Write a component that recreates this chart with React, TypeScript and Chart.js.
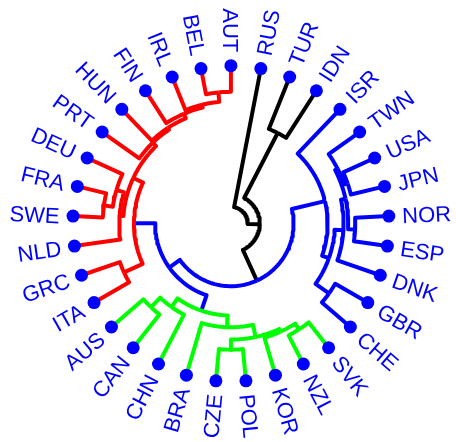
import { useEffect, useRef } from "react";
import { Chart, registerables } from "chart.js";

Chart.register(...registerables);

// Leaves in dendrogram order, clockwise from the top
const countries = [
  "RUS", "TUR", "IDN", "ISR", "TWN", "USA", "JPN", "NOR", "ESP", "DNK", "GBR",
  "CHE", "SVK", "NZL", "KOR", "POL", "CZE", "BRA", "CHN", "CAN", "AUS", "ITA",
  "GRC", "NLD", "SWE", "FRA", "DEU", "PRT", "HUN", "FIN", "IRL", "BEL", "AUT",
];

// Cluster of each leaf (index into clusterColours)
const leafCluster = [
  0, 0, 0, 1, 1, 1, 1, 1, 1, 1, 1, 1, 2, 2, 2, 2, 2, 2, 2, 2, 2, 3, 3, 3, 3, 3,
  3, 3, 3, 3, 3, 3, 3,
];
const clusterColours = ["#000000", "#0000FF", "#00FF00", "#FF0000"];

// hclust-style merge table: negative = leaf (1-based), positive = earlier merge row (1-based)
const mergeChildren: [number, number][] = [
  [-32, -33], [-25, -26], [-16, -17], [-13, -14], [-8, -9], [-6, -7], [-31, 1],
  [-11, -12], [-5, 6], [-30, 7], [2, -27], [4, -15], [-22, -23], [9, 5],
  [12, 3], [-20, -21], [-29, 10], [14, -10], [-28, 17], [-24, 11], [20, 19],
  [18, 8], [15, -18], [-19, 16], [-2, -3], [13, 21], [-4, 22], [23, 24],
  [28, 26], [27, 29], [25, 30], [-1, 31],
];
const mergeHeights = [
  1.82, 2.07, 2.22, 2.24, 2.35, 2.41, 2.48, 2.62, 2.65, 2.68, 2.7, 2.72, 2.82,
  2.84, 2.92, 2.95, 3.02, 3.16, 3.17, 3.23, 3.5, 3.77, 3.78, 3.87, 3.9, 4.25,
  4.27, 4.6, 5.73, 6.64, 8.99, 9.83,
];
// Colour of the branch leading into each merge
const mergeColours = [
  "#FF0000", "#FF0000", "#00FF00", "#00FF00", "#0000FF", "#0000FF", "#FF0000",
  "#0000FF", "#0000FF", "#FF0000", "#FF0000", "#00FF00", "#FF0000", "#0000FF",
  "#00FF00", "#00FF00", "#FF0000", "#0000FF", "#FF0000", "#FF0000", "#FF0000",
  "#0000FF", "#00FF00", "#00FF00", "#000000", "#0000FF", "#0000FF", "#0000FF",
  "#0000FF", "#000000", "#000000", "#000000",
];

// Height that maps to the centre of the circle
const centreHeight = 11;
const labelRadius = 1.085;
const labelColour = "#0000FF";

const RAD = Math.PI / 180;
const nLeaves = countries.length;
const angleOf = (pos: number) => (pos * 360) / nLeaves;
const rhoOf = (h: number) => 1 - h / centreHeight;
const polar = (theta: number, rho: number) => ({
  x: rho * Math.sin(theta * RAD),
  y: rho * Math.cos(theta * RAD),
});

function buildTree() {
  const mergePos: number[] = [];
  const posOf = (c: number) => (c < 0 ? -c : mergePos[c - 1]);
  const heightOf = (c: number) => (c < 0 ? 0 : mergeHeights[c - 1]);
  const colourOf = (c: number) =>
    c < 0 ? clusterColours[leafCluster[-c - 1]] : mergeColours[c - 1];

  mergeChildren.forEach(([a, b]) => {
    mergePos.push((posOf(a) + posOf(b)) / 2);
  });

  // each child gets an elbow: arc at the parent's height, then a radial drop to the child
  const elbows: { pts: { x: number; y: number }[]; colour: string }[] = [];
  mergeChildren.forEach((children, i) => {
    const tp = angleOf(mergePos[i]);
    const rp = rhoOf(mergeHeights[i]);
    children.forEach((c) => {
      const tc = angleOf(posOf(c));
      const rc = rhoOf(heightOf(c));
      const steps = Math.max(1, Math.ceil(Math.abs(tc - tp) / 2));
      const pts = [];
      for (let s = 0; s <= steps; s++) {
        pts.push(polar(tp + ((tc - tp) * s) / steps, rp));
      }
      pts.push(polar(tc, rc));
      elbows.push({ pts, colour: colourOf(c) });
    });
  });
  return elbows;
}

const leafLabels = {
  id: "leafLabels",
  afterDatasetsDraw(chart: any) {
    const { ctx, scales } = chart;
    ctx.save();
    ctx.font = "22px 'Liberation Sans', Arial, sans-serif";
    ctx.fillStyle = labelColour;
    ctx.textBaseline = "alphabetic";
    countries.forEach((name, i) => {
      const theta = angleOf(i + 1);
      const p = polar(theta, labelRadius);
      const px = scales.x.getPixelForValue(p.x);
      const py = scales.y.getPixelForValue(p.y);
      const right = theta < 180;
      ctx.save();
      ctx.translate(px, py);
      ctx.rotate(((right ? theta - 90 : theta - 270) * Math.PI) / 180);
      ctx.textAlign = right ? "left" : "right";
      ctx.fillText(name, 0, 7.9);
      ctx.restore();
    });
    ctx.restore();
  },
};

export default function App() {
  const canvasRef = useRef<HTMLCanvasElement | null>(null);

  useEffect(() => {
    if (!canvasRef.current) return;
    const elbows = buildTree();
    const datasets: any[] = [
      {
        data: countries.map((_, i) => polar(angleOf(i + 1), 1)),
        showLine: false,
        pointRadius: 6.5,
        pointBackgroundColor: labelColour,
        pointBorderWidth: 0,
        order: 0,
      },
      ...elbows.map((e) => ({
        data: e.pts,
        showLine: true,
        borderColor: e.colour,
        borderWidth: 4,
        borderJoinStyle: "round",
        borderCapStyle: "butt",
        pointRadius: 0,
        tension: 0,
        order: 1,
      })),
    ];
    const chart = new Chart(canvasRef.current, {
      type: "scatter",
      data: { datasets },
      options: {
        animation: false,
        responsive: false,
        devicePixelRatio: 1,
        events: [],
        layout: { padding: 0 },
        plugins: { legend: { display: false }, tooltip: { enabled: false } },
        scales: {
          x: { type: "linear", min: -1.4198, max: 1.3829, display: false },
          y: { type: "linear", min: -1.3418, max: 1.3749, display: false },
        },
      },
      plugins: [leafLabels],
    });
    return () => chart.destroy();
  }, []);

  return (
    <div
      style={{
        position: "fixed",
        left: 0,
        top: 0,
        width: 456,
        height: 442,
        background: "#ffffff",
      }}
    >
      <canvas ref={canvasRef} width={456} height={442} style={{ display: "block" }} />
    </div>
  );
}
